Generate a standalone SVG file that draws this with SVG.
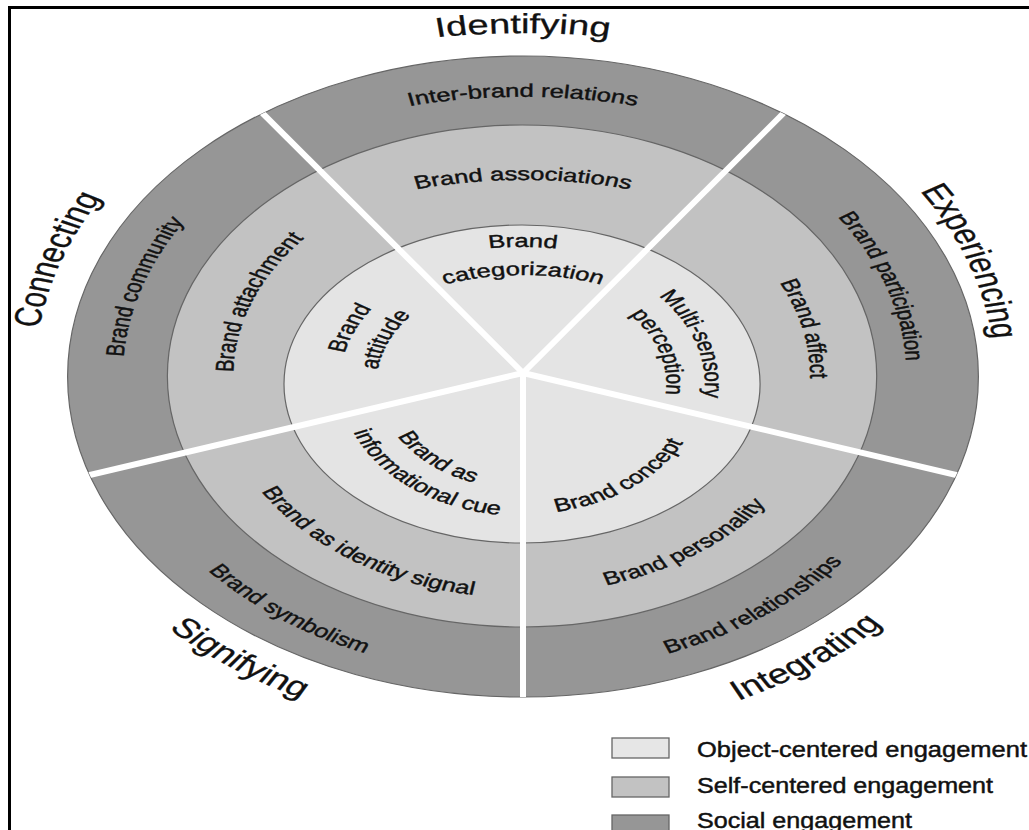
<svg xmlns="http://www.w3.org/2000/svg" width="1029" height="830" viewBox="0 0 1029 830">
<defs>
<style>
.lbl{font-family:"Liberation Sans",Arial,Helvetica,sans-serif;font-size:18.5px;fill:#111;stroke:#111;stroke-width:0.4}
.cat{font-family:"Liberation Sans",Arial,Helvetica,sans-serif;font-size:27.5px;fill:#111;stroke:#111;stroke-width:0.3}
.leg{font-family:"Liberation Sans",Arial,Helvetica,sans-serif;font-size:21.5px;fill:#111;stroke:#111;stroke-width:0.45}
.ring{stroke:#666666;stroke-width:1.2;vector-effect:non-scaling-stroke}
.spoke{stroke:#ffffff;stroke-width:6;vector-effect:non-scaling-stroke;fill:none}
.sw{stroke:#666666;stroke-width:1.3}
</style>
<clipPath id="clipOuter" clipPathUnits="userSpaceOnUse"><ellipse cx="0" cy="-1.5" rx="330" ry="320.5"/></clipPath>
<path id="p-inter" d="M -320.1 -50.4 A 325 279 0 0 1 320.1 -50.4"/>
<path id="p-part" d="M -43.5 -276.6 A 278 278 0 0 1 134.8 241.1"/>
<path id="p-rel" d="M -206.3 211.6 A 297 297 0 0 0 266.9 -132.2"/>
<path id="p-sym" d="M -269.6 -133.5 A 300 300 0 0 0 208.4 213.8"/>
<path id="p-comm" d="M -136.2 254 A 290 290 0 0 1 40.4 -289.2"/>
<path id="p-assoc" d="M -248.2 -36 A 252 196 0 0 1 248.2 -36"/>
<path id="p-affect" d="M -10.9 -209.7 A 208 208 0 0 1 81.3 189.5"/>
<path id="p-attach" d="M -108.2 178 A 210 210 0 0 1 40.1 -208.1"/>
<path id="p-pers" d="M -154.1 152.1 A 218 218 0 0 0 197.6 -94.1"/>
<path id="p-ident" d="M -202.8 -92.3 A 222 222 0 0 0 159.7 152.2"/>
<path id="p-cat1" d="M -174.1 -30.5 A 201 201 0 0 1 174.1 -30.5"/>
<path id="p-cat2" d="M -149.8 -16.5 A 173 173 0 0 1 149.8 -16.5"/>
<path id="p-multi1" d="M -18.4 -124.7 A 132 132 0 0 1 62 122.5"/>
<path id="p-multi2" d="M -14.5 -97 A 104 104 0 0 1 48.8 97.8"/>
<path id="p-concept" d="M -88.7 101.1 A 130 130 0 0 0 115.8 -53"/>
<path id="p-info1" d="M -90.9 -46.5 A 105 105 0 0 0 67.5 86.4"/>
<path id="p-info2" d="M -116.5 -56 A 132 132 0 0 0 88.3 104.1"/>
<path id="p-att1" d="M -74.4 116.3 A 133 133 0 0 1 32.2 -123"/>
<path id="p-att2" d="M -59.3 93.9 A 106 106 0 0 1 25.6 -96.9"/>
<path id="c-identifying" d="M -393.9 -61.6 A 400 343 0 0 1 393.9 -61.6"/>
<path id="c-exp" d="M -56.4 -339.3 A 342 342 0 0 1 168.4 295.7"/>
<path id="c-int" d="M -250.1 257 A 360 360 0 0 0 323.6 -159.8"/>
<path id="c-sig" d="M -323.6 -159.8 A 360 360 0 0 0 250.1 257"/>
<path id="c-conn" d="M -171.6 307.6 A 354 354 0 0 1 55.4 -351.6"/>
</defs>
<rect width="1029" height="830" fill="#ffffff"/>
<path id="frame" d="M9.5 830 V7.5 H1029" fill="none" stroke="#000" stroke-width="3"/>
<g id="wheel" transform="translate(523 378) scale(1.38 1)">
  <g id="rings">
    <ellipse id="ring-social" class="ring" cx="0" cy="-1.5" rx="330" ry="320.5" fill="#969696"/>
    <ellipse id="ring-self" class="ring" cx="-0.7" cy="-2" rx="257" ry="251" fill="#c2c2c2"/>
    <ellipse id="ring-object" class="ring" cx="-0.7" cy="6" rx="172.5" ry="159" fill="#e4e4e4"/>
  </g>
  <g id="connectors" clip-path="url(#clipOuter)">
    <line class="spoke" x1="0" y1="-5" x2="0" y2="395"/>
    <line class="spoke" x1="0" y1="-5" x2="380.4" y2="118.6"/>
    <line class="spoke" x1="0" y1="-5" x2="235.1" y2="-328.6"/>
    <line class="spoke" x1="0" y1="-5" x2="-235.1" y2="-328.6"/>
    <line class="spoke" x1="0" y1="-5" x2="-380.4" y2="118.6"/>
  </g>
  <g id="inter-brand-relations"><text class="lbl"><textPath href="#p-inter" startOffset="50%" text-anchor="middle">Inter-brand relations</textPath></text></g>
  <g id="brand-participation"><text class="lbl"><textPath href="#p-part" startOffset="50%" text-anchor="middle">Brand participation</textPath></text></g>
  <g id="brand-relationships"><text class="lbl"><textPath href="#p-rel" startOffset="50%" text-anchor="middle">Brand relationships</textPath></text></g>
  <g id="brand-symbolism"><text class="lbl"><textPath href="#p-sym" startOffset="50%" text-anchor="middle">Brand symbolism</textPath></text></g>
  <g id="brand-community"><text class="lbl"><textPath href="#p-comm" startOffset="50%" text-anchor="middle">Brand community</textPath></text></g>
  <g id="brand-associations"><text class="lbl"><textPath href="#p-assoc" startOffset="50%" text-anchor="middle">Brand associations</textPath></text></g>
  <g id="brand-affect"><text class="lbl"><textPath href="#p-affect" startOffset="50%" text-anchor="middle">Brand affect</textPath></text></g>
  <g id="brand-attachment"><text class="lbl"><textPath href="#p-attach" startOffset="50%" text-anchor="middle">Brand attachment</textPath></text></g>
  <g id="brand-personality"><text class="lbl"><textPath href="#p-pers" startOffset="50%" text-anchor="middle">Brand personality</textPath></text></g>
  <g id="brand-identity-signal"><text class="lbl"><textPath href="#p-ident" startOffset="50%" text-anchor="middle">Brand as identity signal</textPath></text></g>
  <g id="brand-categorization">
    <text class="lbl"><textPath href="#p-cat1" startOffset="50%" text-anchor="middle">Brand</textPath></text>
    <text class="lbl"><textPath href="#p-cat2" startOffset="50%" text-anchor="middle">categorization</textPath></text>
  </g>
  <g id="multi-sensory-perception">
    <text class="lbl"><textPath href="#p-multi1" startOffset="50%" text-anchor="middle">Multi-sensory</textPath></text>
    <text class="lbl"><textPath href="#p-multi2" startOffset="50%" text-anchor="middle">perception</textPath></text>
  </g>
  <g id="brand-concept"><text class="lbl"><textPath href="#p-concept" startOffset="50%" text-anchor="middle">Brand concept</textPath></text></g>
  <g id="brand-informational-cue">
    <text class="lbl"><textPath href="#p-info1" startOffset="50%" text-anchor="middle">Brand as</textPath></text>
    <text class="lbl"><textPath href="#p-info2" startOffset="50%" text-anchor="middle">informational cue</textPath></text>
  </g>
  <g id="brand-attitude">
    <text class="lbl"><textPath href="#p-att1" startOffset="50%" text-anchor="middle">Brand</textPath></text>
    <text class="lbl"><textPath href="#p-att2" startOffset="50%" text-anchor="middle">attitude</textPath></text>
  </g>
  <g id="identifying"><text class="cat"><textPath href="#c-identifying" startOffset="50%" text-anchor="middle">Identifying</textPath></text></g>
  <g id="experiencing"><text class="cat"><textPath href="#c-exp" startOffset="50%" text-anchor="middle">Experiencing</textPath></text></g>
  <g id="integrating"><text class="cat"><textPath href="#c-int" startOffset="50%" text-anchor="middle">Integrating</textPath></text></g>
  <g id="signifying"><text class="cat"><textPath href="#c-sig" startOffset="50%" text-anchor="middle">Signifying</textPath></text></g>
  <g id="connecting"><text class="cat"><textPath href="#c-conn" startOffset="50%" text-anchor="middle">Connecting</textPath></text></g>
</g>
<g id="legend">
  <g id="legend-object">
    <rect class="sw" x="612" y="738" width="57" height="20" fill="#e6e6e6"/>
    <text class="leg" x="697" y="757" textLength="330" lengthAdjust="spacingAndGlyphs">Object-centered engagement</text>
  </g>
  <g id="legend-self">
    <rect class="sw" x="612" y="777" width="57" height="20" fill="#c2c2c2"/>
    <text class="leg" x="697" y="793" textLength="296" lengthAdjust="spacingAndGlyphs">Self-centered engagement</text>
  </g>
  <g id="legend-social">
    <rect class="sw" x="612" y="815" width="57" height="20" fill="#969696"/>
    <text class="leg" x="697" y="828" textLength="215" lengthAdjust="spacingAndGlyphs">Social engagement</text>
  </g>
</g>
</svg>
